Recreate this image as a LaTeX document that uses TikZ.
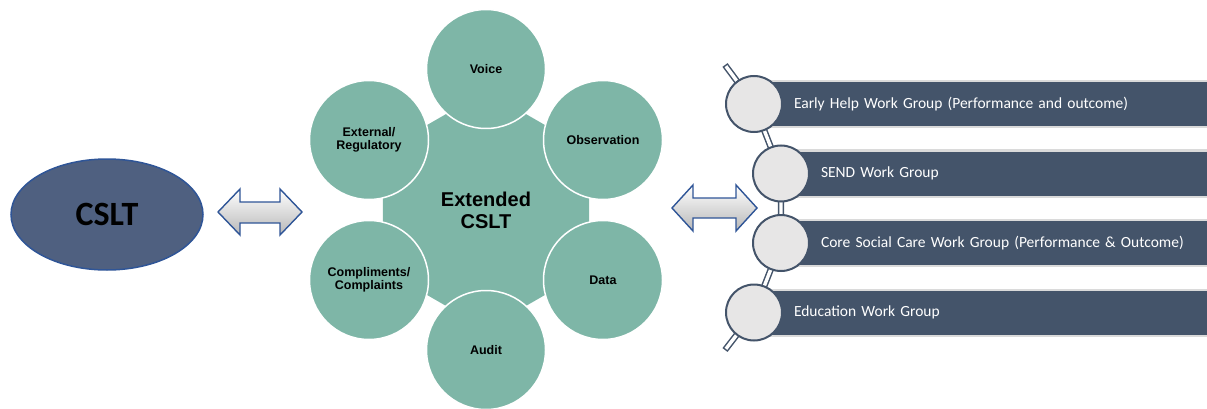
\documentclass[tikz,border=0pt]{standalone}
\usepackage{fontspec}
\setmainfont{Carlito}
\newfontfamily\arialfont{Liberation Sans}
\usetikzlibrary{shapes.geometric}

\definecolor{csltfill}{RGB}{79,96,128}
\definecolor{csltline}{RGB}{47,85,151}
\definecolor{hubteal}{RGB}{126,182,167}
\definecolor{barblue}{RGB}{68,84,106}
\definecolor{baredge}{RGB}{218,218,218}
\definecolor{dotgray}{RGB}{231,230,230}

\begin{document}
\begin{tikzpicture}[x=1pt,y=-1pt,
  blockarrow/.style={draw=csltline, line width=1.4pt, line join=miter,
    top color=white, bottom color=black!28},
  spoke/.style={circle, fill=hubteal, draw=white, line width=1.5pt,
    minimum size=119pt, inner sep=0pt, align=center,
    font=\arialfont\bfseries\fontsize{12.5}{13.5}\selectfont},
  bar/.style={rectangle, anchor=west, fill=barblue, draw=baredge,
    line width=2pt, minimum height=46pt, inner ysep=0pt, inner xsep=39pt,
    align=left, text=white, font=\fontsize{15.5}{18}\selectfont},
  dot/.style={circle, fill=dotgray, draw=barblue, line width=2pt,
    minimum size=56pt, inner sep=0pt}]
\useasboundingbox (0,0) rectangle (1207,409);

% leadership team
\node[ellipse, fill=csltfill, draw=csltline, line width=1.5pt,
  minimum width=192pt, minimum height=111pt,
  font=\bfseries\fontsize{34}{40}\selectfont] (cslt) at (107,214.5) {CSLT};

% two-way block arrows
\draw[blockarrow] (218,212) -- (240,189) -- (240,202) -- (280,202)
  -- (280,189) -- (302,212) -- (280,235) -- (280,223) -- (240,223)
  -- (240,235) -- cycle;
\draw[blockarrow] (672,208) -- (693,185) -- (693,198) -- (736,198)
  -- (736,185) -- (757,208) -- (736,231) -- (736,218) -- (693,218)
  -- (693,231) -- cycle;

% extended team hub with its sources
\node[regular polygon, regular polygon sides=6, shape border rotate=30,
  minimum size=238pt, inner sep=0pt, fill=hubteal, align=center,
  font=\arialfont\bfseries\fontsize{20}{22}\selectfont]
  (hub) at (486,210) {Extended\\CSLT};
\node[spoke] (voice) at (486,69) {Voice};
\node[spoke] (obs) at (603,140) {Observation};
\node[spoke] (data) at (603,280) {Data};
\node[spoke] (audit) at (486,350) {Audit};
\node[spoke] (comp) at (369,280) {Compliments/\\Complaints};
\node[spoke] (ext) at (369,140) {External/\\Regulatory};

% work group timeline (bars run off the right edge of the page)
\coordinate (ptop) at (725,65);
\coordinate (p1) at (754,104);
\coordinate (p2) at (781,173.5);
\coordinate (p3) at (781,243);
\coordinate (p4) at (754,312.5);
\coordinate (pbot) at (725,350);
\draw[barblue, line width=6.4pt] (ptop) -- (p1) -- (p2) -- (p3) -- (p4) -- (pbot);
\draw[white, line width=3.4pt, shorten <=1.5pt, shorten >=1.5pt]
  (ptop) -- (p1) -- (p2) -- (p3) -- (p4) -- (pbot);

\node[bar, text width=430pt] (b1) at (p1) {Early Help Work Group (Performance and outcome)};
\node[bar, text width=403pt] (b2) at (p2) {SEND Work Group};
\node[bar, text width=403pt] (b3) at (p3) {Core Social Care Work Group (Performance \& Outcome)};
\node[bar, text width=430pt] (b4) at (p4) {Education Work Group};

\node[dot] (d1) at (p1) {};
\node[dot] (d2) at (p2) {};
\node[dot] (d3) at (p3) {};
\node[dot] (d4) at (p4) {};
\end{tikzpicture}
\end{document}
